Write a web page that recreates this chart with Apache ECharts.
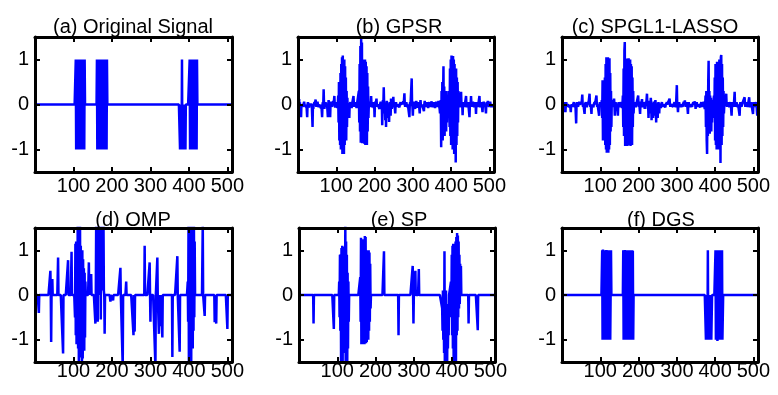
<!DOCTYPE html>
<html>
<head>
<meta charset="utf-8">
<script src="https://cdn.jsdelivr.net/npm/echarts@6/dist/echarts.min.js"></script>
<style>html,body{margin:0;padding:0;background:#fff}#c{width:778px;height:395px}</style>
</head>
<body>
<div id="c"></div>
<script>
const N = 512;
const xTickValues = [100, 200, 300, 400, 500];
const yTickValues = [-1, 0, 1];
const panelTitles = ['(a) Original Signal', '(b) GPSR', '(c) SPGL1-LASSO', '(d) OMP', '(e) SP', '(f) DGS'];

// (a) original block-sparse signal: [start index, values]
const originalRuns = [
  [106, [1,-1,1,-1,1,-1,-1,1,-1,1,-1,1,1,-1,1,-1,1,-1,1,-1,-1,1,-1,1]],
  [161, [1,-1,1,-1,1,-1,1,1,-1,1,-1,-1,1,-1,1,-1,1,-1,1,1,-1,1,-1,-1,1,-1,1]],
  [377, [-1,0,-1,0,-1,1,-1,0,-1,0,-1,0,-1,0,-1]],
  [402, [1,-1,-1,1,-1,1,-1,1,1,-1,1,-1,1,-1,-1,1,-1,1,-1,1]]
];

// (b) GPSR: [index, value]
const gpsrPoints = [
  [1,0.17],[2,-0.24],[3,0.12],[4,-0.2],[5,0.05],[6,-0.12],[8,-0.28],[10,0.04],[13,-0.05],[16,0.06],[19,-0.04],[21,-0.06],
  [24,-0.28],[26,0.05],[29,-0.07],[32,0.04],[35,-0.04],[38,-0.5],[40,-0.1],[43,0.05],[46,0.11],[48,-0.05],[51,0.06],
  [54,-0.06],[57,0.04],[60,-0.08],[63,-0.28],[65,0.05],[67,0.34],[69,-0.1],[72,0.05],[75,-0.05],[78,-0.28],[80,0.1],
  [82,-0.15],[84,-0.28],[86,0.06],[89,-0.05],[92,0.08],[95,0.19],[97,-0.07],[100,0.05],[103,-0.08],
  [105,0.2],[106,-0.4],[107,0.5],[108,-0.8],[109,0.45],[110,-0.9],[111,0.7],[112,-1.0],[113,0.9],[114,-0.7],[115,1.05],
  [116,-1.1],[117,1.09],[118,-1.05],[119,0.95],[120,-1.1],[121,1.0],[122,-0.9],[123,0.85],[124,-0.75],[125,0.6],
  [126,-0.8],[127,0.3],[128,-0.5],[129,0.15],[130,-0.2],
  [134,-0.3],[137,0.05],[140,-0.08],[142,0.04],[145,0.19],[147,-0.05],[150,0.05],[153,-0.08],[156,0.04],
  [159,0.3],[160,-0.4],[161,0.9],[162,-0.6],[163,1.3],[164,-0.85],[165,1.47],[166,-0.8],[167,1.38],[168,-0.86],
  [169,1.0],[170,-0.7],[171,0.95],[172,-0.8],[173,0.9],[174,-0.88],[175,1.0],[176,-0.9],[177,0.95],[178,-0.8],
  [179,0.85],[180,-0.9],[181,0.7],[182,-0.6],[183,0.4],[184,-0.3],
  [187,0.06],[189,-0.05],[191,0.19],[193,-0.06],[196,0.05],[198,-0.08],[200,-0.28],[202,0.06],[205,0.13],[207,-0.05],
  [210,0.04],[213,-0.1],[216,0.06],[218,-0.05],[220,-0.46],[222,0.1],[224,0.38],[226,-0.2],[228,-0.35],[230,-0.5],
  [232,0.08],[234,-0.3],[236,-0.15],[238,-0.39],[240,0.05],[242,-0.25],[243,0.13],[245,-0.1],[247,0.05],[249,0.17],
  [251,-0.06],[254,-0.2],[256,0.05],[259,-0.05],[262,0.04],[265,-0.06],[268,0.05],[271,-0.04],[275,0.06],[278,0.25],
  [280,-0.05],[283,0.05],[286,-0.06],[291,-0.28],[293,0.05],[297,0.58],[299,-0.05],[300,-0.25],[303,0.06],[306,-0.1],
  [309,0.08],[312,-0.07],[315,0.05],[318,-0.2],[320,0.1],[323,-0.06],[326,0.04],[329,-0.15],[331,0.08],[334,-0.05],
  [337,0.05],[340,-0.08],[343,0.05],[346,-0.05],[349,0.07],[352,-0.06],[355,0.05],[358,-0.08],[361,0.06],[364,-0.05],
  [367,0.08],[370,-0.1],
  [371,-0.2],[373,0.1],[374,-0.95],[375,0.3],[376,-0.7],[377,0.5],[378,-0.8],[379,0.2],[380,0.85],[381,-0.6],[382,0.4],
  [383,-0.7],[384,0.3],[385,-0.5],[386,0.2],[387,-0.6],[388,0.3],[389,-0.4],[390,0.15],[391,-0.3],[393,0.1],
  [395,0.3],[396,-0.5],[397,0.8],[398,-0.7],[399,1.0],[400,-0.9],[401,1.09],[402,-0.8],[403,1.05],[404,-1.0],
  [405,1.08],[406,-0.9],[407,1.0],[408,-1.1],[409,0.9],[410,-1.0],[411,0.7],[412,-1.29],[413,0.8],[414,-0.9],
  [415,0.6],[416,-0.7],[417,0.5],[418,-0.4],[419,0.3],
  [421,-0.06],[423,0.05],[426,0.28],[428,-0.06],[430,-0.24],[432,0.05],[435,-0.05],[439,0.19],[441,-0.06],[444,0.05],
  [448,-0.28],[450,0.05],[452,0.19],[454,-0.05],[457,0.06],[460,-0.06],[463,0.05],[465,-0.21],[467,0.05],[470,-0.05],
  [474,0.19],[476,-0.06],[479,0.05],[482,-0.17],[485,0.06],[488,-0.05],[491,-0.2],[493,0.05],[496,0.08],[499,-0.05],
  [502,0.06],[505,-0.06],[508,0.04],[511,-0.05]
];

// (c) SPGL1-LASSO: [index, value]
const spglPoints = [
  [1,0.09],[3,-0.17],[5,0.05],[7,-0.1],[9,-0.17],[11,0.05],[14,-0.05],[17,0.04],[20,-0.06],[23,-0.17],[25,0.04],
  [28,-0.05],[31,0.05],[34,-0.06],[37,-0.42],[39,0.05],[42,-0.05],[45,0.06],[48,-0.04],[50,0.05],[53,0.22],[55,-0.05],
  [58,0.04],[59,-0.21],[62,0.05],[65,-0.06],[68,0.05],[72,0.24],[74,-0.05],[77,-0.21],[79,0.04],[82,-0.06],[85,0.05],
  [90,0.2],[92,-0.05],[95,0.04],[97,-0.25],[99,0.05],[102,-0.05],
  [104,0.1],[105,-0.3],[106,0.54],[107,-0.8],[108,0.4],[109,-0.6],[110,0.3],[111,-0.7],[112,0.6],[113,-0.9],[114,0.9],
  [115,-1.0],[116,1.05],[117,-1.07],[118,1.0],[119,-1.05],[120,1.05],[121,-1.07],[122,0.95],[123,-1.0],[124,1.03],
  [125,-0.9],[126,0.7],[127,-0.6],[128,0.3],[129,-0.5],[130,0.1],
  [133,-0.05],[136,0.13],[138,-0.25],[140,0.05],[143,-0.05],[146,-0.25],[148,0.05],[151,-0.06],[154,0.05],[157,-0.08],
  [159,0.2],[160,-0.5],[161,0.8],[162,-0.7],[163,1.2],[164,1.39],[165,-0.92],[166,1.0],[167,-0.85],[168,1.02],
  [169,-0.9],[170,0.98],[171,-0.92],[172,1.0],[173,-0.8],[174,1.03],[175,-0.9],[176,0.95],[177,-0.85],[178,1.0],
  [179,-0.92],[180,0.9],[181,-0.8],[182,0.85],[183,-0.9],[184,0.6],[185,-0.5],[186,0.3],[187,-0.2],
  [190,0.05],[193,-0.06],[199,0.2],[201,-0.05],[204,-0.21],[206,0.06],[209,0.12],[211,-0.06],[214,0.05],[216,-0.1],
  [219,0.06],[222,0.24],[224,-0.1],[226,-0.3],[228,0.08],[230,-0.2],[232,0.15],[234,-0.35],[236,-0.1],[238,-0.3],
  [240,0.06],[242,-0.25],[244,0.1],[246,-0.4],[248,-0.15],[250,-0.3],[252,0.05],[254,-0.2],[256,0.04],[258,-0.08],
  [261,0.05],[264,-0.05],[267,0.04],[270,-0.06],[274,0.05],[278,-0.04],[281,0.13],[283,-0.05],[286,0.04],[290,-0.05],
  [294,0.05],[297,-0.06],[300,0.43],[302,-0.05],[303,-0.17],[306,0.05],[309,-0.06],[312,0.04],[315,-0.05],[318,0.06],
  [321,0.09],[323,-0.05],[326,0.05],[329,-0.21],[331,0.05],[334,-0.06],[337,0.04],[340,-0.05],[343,0.05],[347,0.07],
  [349,-0.1],[352,0.05],[355,-0.05],[358,0.04],[361,-0.06],[364,0.05],[367,-0.05],[370,0.06],
  [373,-0.1],[375,0.2],[376,-0.5],[377,0.3],[378,-0.8],[379,-1.1],[380,0.2],[381,-0.7],[382,0.5],[383,0.97],[384,-0.6],
  [385,0.3],[386,-0.65],[387,0.2],[388,-0.5],[389,0.15],[390,-0.6],[391,0.1],[392,-0.4],[393,0.1],[394,-0.2],
  [397,0.2],[398,-0.3],[399,0.6],[400,-0.8],[401,0.9],[402,-0.9],[403,0.85],[404,-1.0],[405,0.95],[406,-0.9],
  [407,0.9],[408,-1.0],[409,0.95],[410,-0.85],[411,1.0],[412,-0.95],[413,0.9],[414,-1.3],[415,1.05],[416,1.1],
  [417,-0.9],[418,0.9],[419,-0.7],[420,0.6],[421,-0.5],[422,0.3],[423,-0.2],
  [426,0.05],[429,0.24],[431,-0.05],[434,0.05],[437,-0.06],[440,0.05],[443,-0.25],[445,0.05],[448,-0.05],[451,0.28],
  [453,-0.05],[456,0.05],[459,-0.06],[464,-0.25],[466,0.05],[469,-0.05],[472,0.04],[477,0.16],[479,-0.05],[482,0.05],
  [485,-0.05],[489,0.16],[491,-0.06],[494,0.05],[499,-0.21],[501,0.05],[504,-0.05],[507,0.05],[510,-0.25],[512,-0.1]
];

// (d) OMP: [index, value]
const ompPoints = [
  [10,-0.4],[40,0.54],[42,-1.05],[45,0.36],[60,0.84],[73,-1.31],[86,0.78],[95,0.97],
  [104,-0.5],[105,1.15],[106,-0.9],[107,1.2],[108,-1.1],[109,0.9],[110,-0.7],[111,1.6],[112,-1.2],[113,1.6],[114,-1.6],
  [115,1.3],[116,-1.0],[117,1.6],[118,-1.4],[119,1.1],[120,-1.3],[121,0.9],[122,-1.6],[123,1.0],[124,-1.42],[125,0.8],
  [126,-1.1],[127,0.6],[128,-1.25],[129,0.5],[130,-0.95],[131,0.3],
  [140,0.73],[146,0.47],[157,-0.64],
  [159,1.6],[160,0.0],[161,1.6],[162,0.2],[163,-0.6],[164,1.6],[165,0.1],[166,1.6],[167,0.3],[168,1.6],[169,0.0],
  [170,1.6],[171,-0.55],[172,1.6],[173,0.2],[174,1.6],[175,0.1],[176,1.6],[177,0.4],[178,1.6],[179,0.1],
  [181,-0.87],[196,-0.15],[203,-0.12],[222,0.61],[228,-1.6],[237,0.3],[256,-0.9],[259,-0.82],
  [285,1.1],[298,0.73],[300,-0.6],[313,-1.6],[318,0.84],[322,-0.87],[326,-0.7],[331,-0.95],
  [357,-1.39],[370,0.87],[376,-1.27],
  [397,0.3],[398,-0.6],[399,1.6],[400,-1.6],[401,1.3],[402,-1.6],[403,1.6],[404,-1.2],[405,1.6],[406,-1.6],[407,1.4],
  [408,-1.0],[409,1.6],[410,-1.2],[411,1.6],[412,-0.8],[413,1.6],[414,-0.5],[415,1.2],
  [436,1.6],[441,-0.47],[467,-0.61],[471,-0.64],[500,-0.76]
];

// (e) SP: [index, value]
const spPoints = [
  [38,-0.64],[91,-0.76],
  [105,0.3],[106,-0.5],[107,0.9],[108,-0.8],[109,0.91],[110,-1.6],[111,1.05],[112,-1.2],[113,1.1],[114,-1.6],[115,1.08],
  [116,-1.3],[117,0.8],[118,-1.1],[119,1.0],[120,-0.9],[121,1.6],[122,-1.6],[123,1.2],[124,-1.6],[125,0.9],[126,-1.6],
  [127,0.5],[128,-1.2],[129,0.3],[130,-0.6],
  [160,0.4],[161,-0.6],[162,1.28],[163,-1.1],[164,1.2],[165,-1.09],[166,0.9],[167,-1.1],[168,1.25],[169,-1.05],
  [170,1.0],[171,-1.1],[172,1.32],[173,-1.0],[174,1.3],[175,-1.08],[176,0.9],[177,-1.05],[178,1.0],[179,-0.9],
  [180,0.98],[181,-1.0],[182,1.0],[183,-0.8],[184,0.95],[185,-0.6],[186,0.7],[187,-0.3],
  [222,0.98],[260,-0.9],[297,0.65],[299,-0.64],[304,0.54],[313,0.58],
  [374,-0.3],[375,-0.8],[376,0.1],[377,-1.0],[378,-0.2],[379,-1.3],[380,0.98],[381,-1.6],[382,-0.3],[383,-1.6],
  [384,0.1],[385,-1.4],[386,-0.4],[387,-1.6],[388,-0.2],[389,-1.2],[390,-0.5],[391,-0.9],
  [397,0.3],[398,-0.5],[399,0.9],[400,-0.9],[401,1.1],[402,-1.2],[403,1.15],[404,-1.6],[405,1.0],[406,-1.6],
  [407,1.15],[408,-1.4],[409,1.2],[410,-1.6],[411,1.3],[412,-0.9],[413,1.39],[414,-0.8],[415,1.33],[416,-0.5],
  [417,1.2],[418,-0.3],[419,0.9],[420,-0.2],[421,0.7],[423,0.65],
  [443,-0.64],[467,-0.79]
];

// (f) DGS: [start index, values]
const dgsRuns = [
  [105, [1,-1,1.02,-1,1,-1,1,-1,-1,1,-1,1.01,1,-1,1,-1,1,-1,1,-1,1,-1,-1,1]],
  [160, [1,-1,1,-1,1.01,-1,1,-1,1,-1,-1,1,-1,1,-1,1,-1,1,-1,-1,0.98,-1,-1,1,-1,0.99,-1]],
  [376, [-1,0,-1,0,-1,1,-1,0,-1,0,-1,0,-1,0,-1,-1]],
  [401, [1,-1,1,-1,1,-1.03,-1,0,-1,1,-1,1,-1,1,-1,1,-1,1,-1,-1]]
];

function buildSignal(points, runs) {
  const y = new Array(N + 1).fill(0);
  (runs || []).forEach(([s, vals]) => vals.forEach((v, k) => { y[s + k] = v; }));
  (points || []).forEach(([i, v]) => { y[i] = v; });
  const out = [];
  for (let i = 1; i <= N; i++) out.push([i, y[i]]);
  return out;
}

const signals = [
  buildSignal(null, originalRuns),
  buildSignal(gpsrPoints, null),
  buildSignal(spglPoints, null),
  buildSignal(ompPoints, null),
  buildSignal(spPoints, null),
  buildSignal(null, dgsRuns)
];

const gridBoxes = [
  {left: 35, top: 37, width: 197, height: 135},
  {left: 298, top: 37, width: 196, height: 135},
  {left: 562, top: 37, width: 196, height: 135},
  {left: 35, top: 228, width: 197, height: 134},
  {left: 299, top: 228, width: 196, height: 134},
  {left: 562, top: 228, width: 196, height: 134}
];
const titleAnchors = [[128, 12], [394, 12], [650, 12], [128, 205], [394, 205], [656, 205]];
const FONT = 'Liberation Sans, Arial, Helvetica, sans-serif';

const frameLine = {show: true, onZero: false, lineStyle: {color: '#000', width: 3}};
const tickStyle = {show: true, inside: true, length: 5, lineStyle: {color: '#000', width: 2}};

const xAxes = [], yAxes = [], series = [], titles = [];
gridBoxes.forEach((g, i) => {
  const row2 = i >= 3;
  xAxes.push({
    gridIndex: i, type: 'value', min: 0, max: N, position: 'bottom', z: 5,
    axisLine: frameLine,
    axisTick: Object.assign({customValues: xTickValues}, tickStyle),
    axisLabel: {customValues: xTickValues, color: '#000', fontSize: 20, fontFamily: FONT, margin: row2 ? -1 : 4},
    splitLine: {show: false}
  });
  xAxes.push({
    gridIndex: i, type: 'value', min: 0, max: N, position: 'top', z: 5,
    axisLine: frameLine,
    axisTick: Object.assign({customValues: xTickValues}, tickStyle),
    axisLabel: {show: false}, splitLine: {show: false}
  });
  yAxes.push({
    gridIndex: i, type: 'value', min: -1.5, max: 1.5, position: 'left', z: 5,
    axisLine: frameLine,
    axisTick: Object.assign({customValues: yTickValues}, tickStyle),
    axisLabel: {customValues: yTickValues, color: '#000', fontSize: 20, fontFamily: FONT, margin: 6},
    splitLine: {show: false}
  });
  yAxes.push({
    gridIndex: i, type: 'value', min: -1.5, max: 1.5, position: 'right', z: 5,
    axisLine: frameLine,
    axisTick: Object.assign({customValues: yTickValues}, tickStyle),
    axisLabel: {show: false}, splitLine: {show: false}
  });
  series.push({
    type: 'line', xAxisIndex: 2 * i, yAxisIndex: 2 * i, data: signals[i],
    showSymbol: false, symbol: 'none', clip: true, silent: true, sampling: null,
    lineStyle: {color: '#0000ff', width: 2.5}
  });
  titles.push({
    text: panelTitles[i], left: titleAnchors[i][0], top: titleAnchors[i][1], textAlign: 'center',
    textStyle: {color: '#000', fontSize: 20, fontWeight: 'normal', fontFamily: FONT}
  });
});

const chart = echarts.init(document.getElementById('c'), null, {renderer: 'canvas'});
chart.setOption({
  animation: false,
  backgroundColor: '#fff',
  title: titles,
  grid: gridBoxes.map(g => Object.assign({show: false, containLabel: false}, g)),
  xAxis: xAxes,
  yAxis: yAxes,
  series: series
});
</script>
</body>
</html>
